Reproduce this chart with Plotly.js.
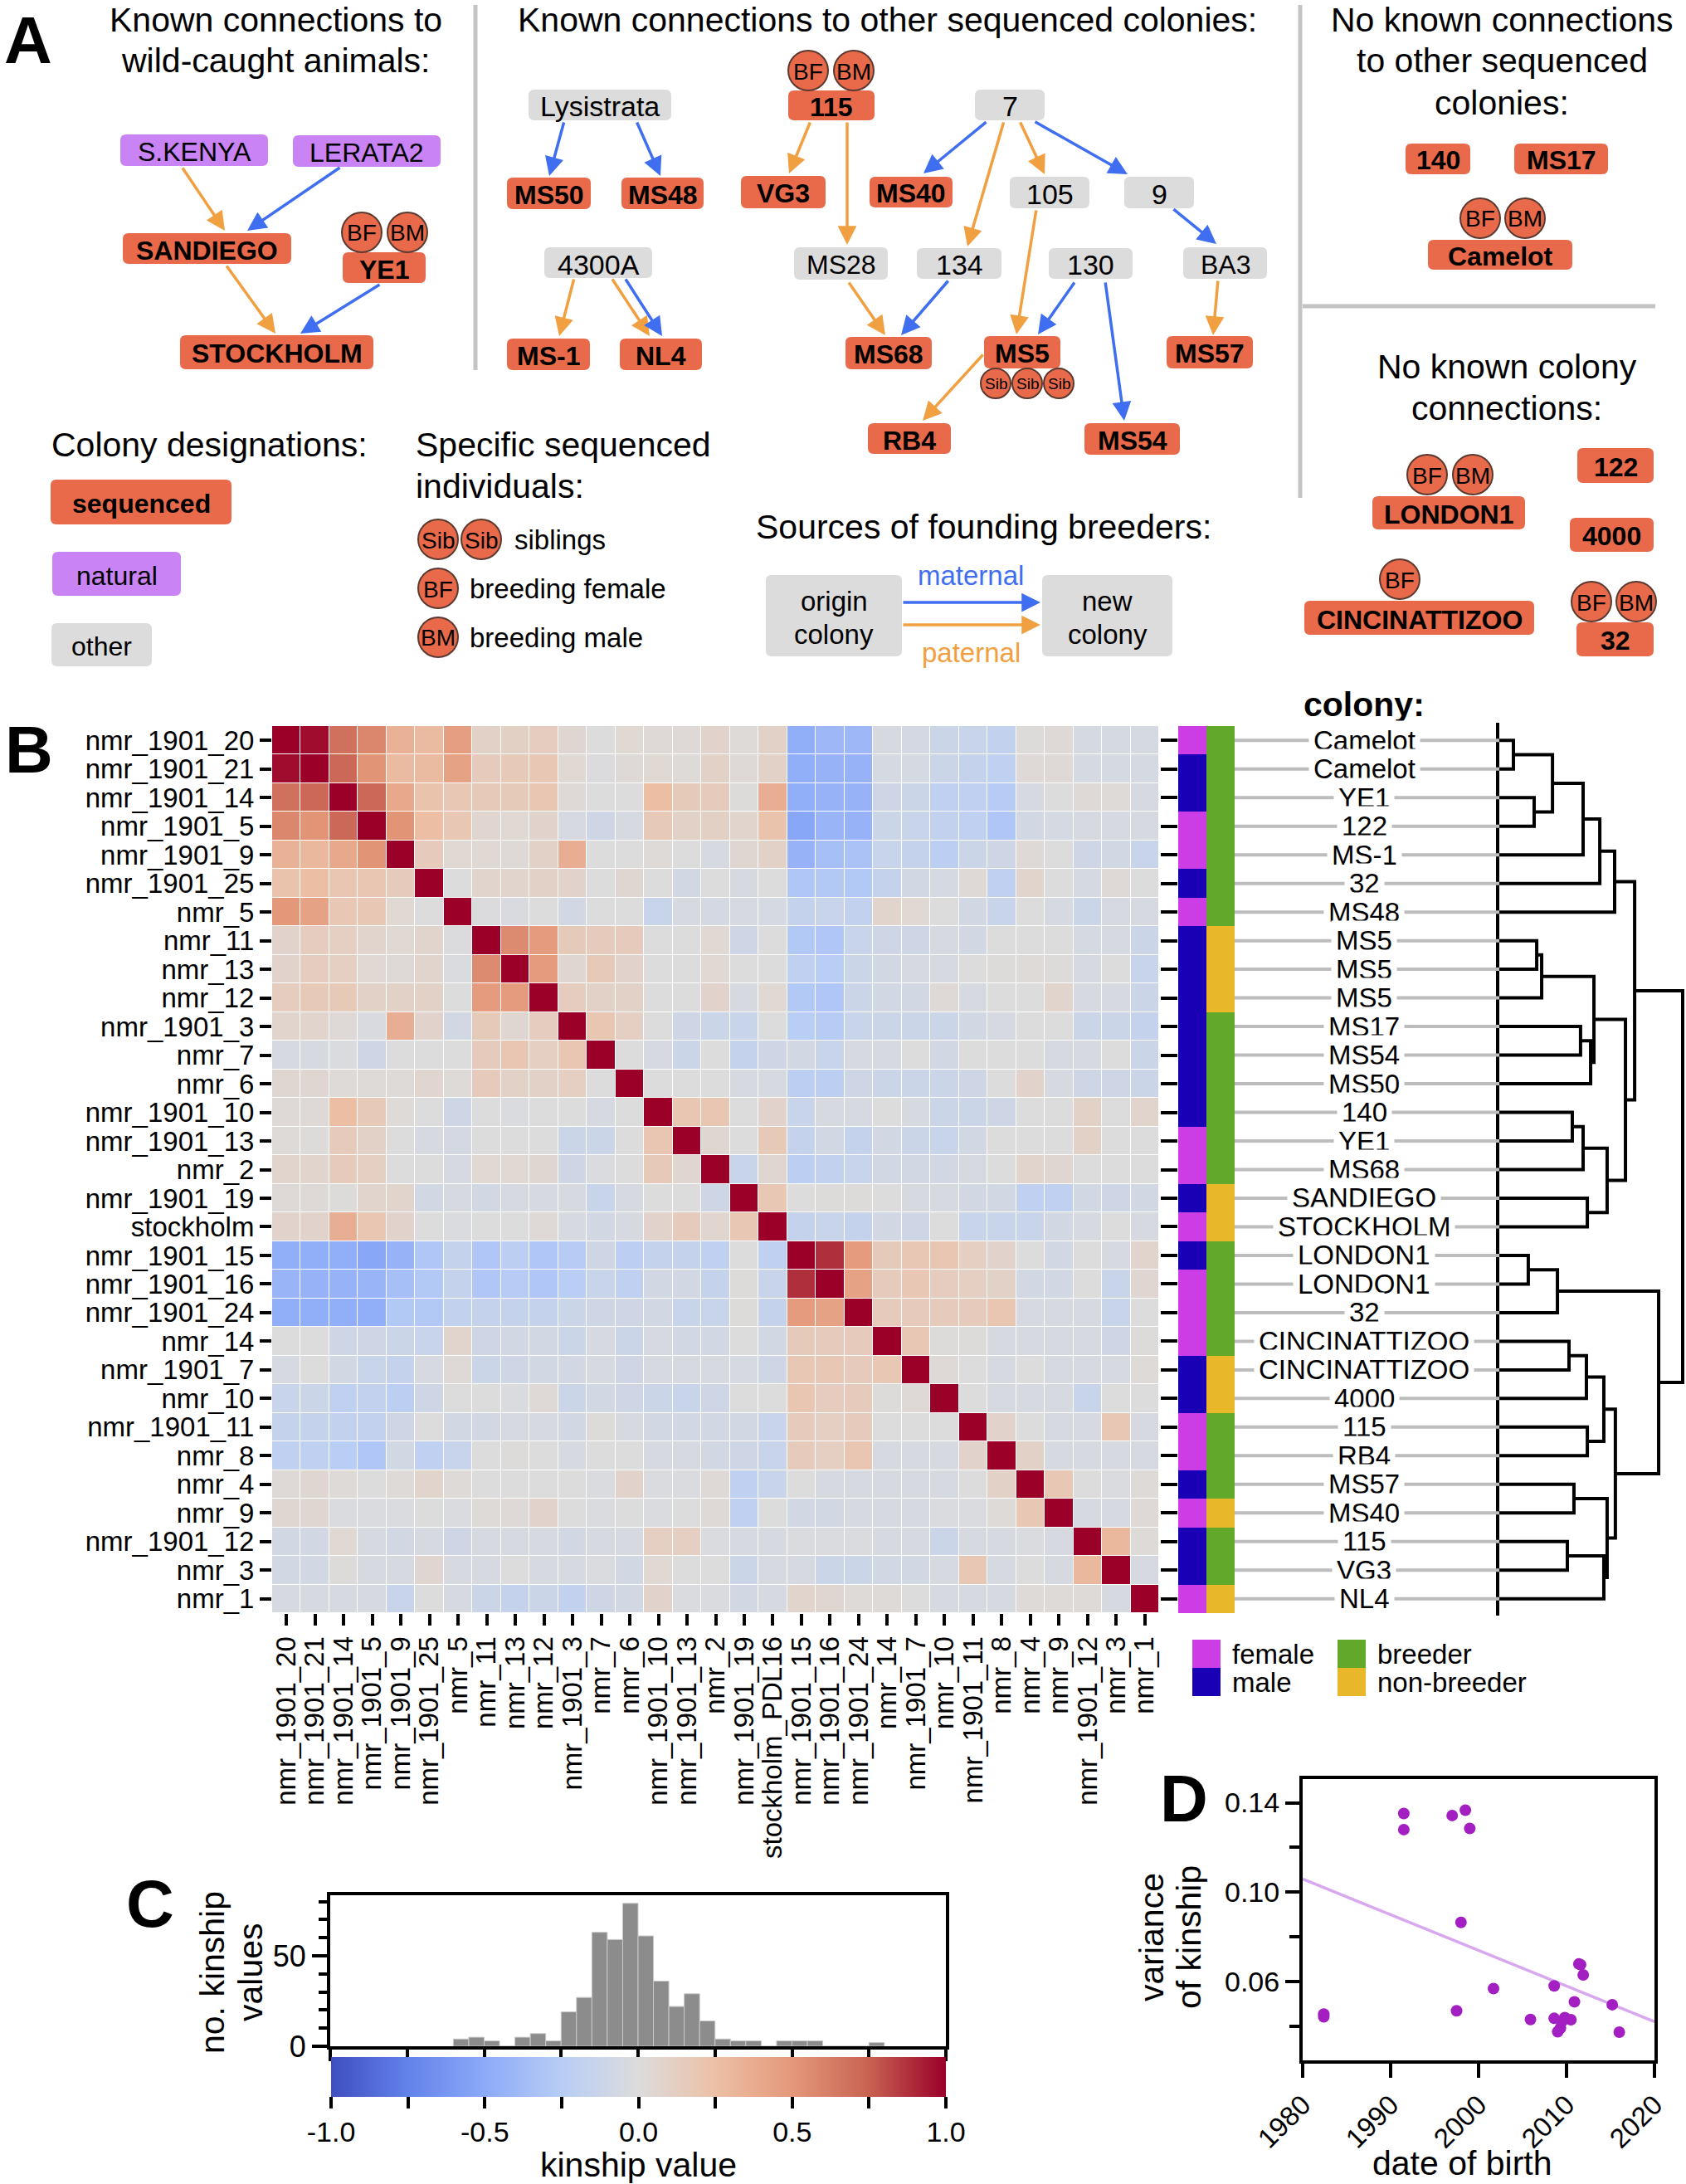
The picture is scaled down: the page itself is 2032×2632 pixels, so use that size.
<!DOCTYPE html>
<html><head><meta charset="utf-8">
<script src="https://cdn.plot.ly/plotly-3.0.1.min.js"></script>
<style>body{margin:0;background:#fff}#chart{width:2032px;height:2632px}</style>
</head><body><div id="chart"></div>
<script>
// ---------------- DATA ----------------
const rowLabels = ['nmr_1901_20','nmr_1901_21','nmr_1901_14','nmr_1901_5','nmr_1901_9','nmr_1901_25','nmr_5','nmr_11','nmr_13','nmr_12','nmr_1901_3','nmr_7','nmr_6','nmr_1901_10','nmr_1901_13','nmr_2','nmr_1901_19','stockholm','nmr_1901_15','nmr_1901_16','nmr_1901_24','nmr_14','nmr_1901_7','nmr_10','nmr_1901_11','nmr_8','nmr_4','nmr_9','nmr_1901_12','nmr_3','nmr_1'];
const colLabels = ['nmr_1901_20','nmr_1901_21','nmr_1901_14','nmr_1901_5','nmr_1901_9','nmr_1901_25','nmr_5','nmr_11','nmr_13','nmr_12','nmr_1901_3','nmr_7','nmr_6','nmr_1901_10','nmr_1901_13','nmr_2','nmr_1901_19','stockholm_PDL16','nmr_1901_15','nmr_1901_16','nmr_1901_24','nmr_14','nmr_1901_7','nmr_10','nmr_1901_11','nmr_8','nmr_4','nmr_9','nmr_1901_12','nmr_3','nmr_1'];
const colony = ['Camelot','Camelot','YE1','122','MS-1','32','MS48','MS5','MS5','MS5','MS17','MS54','MS50','140','YE1','MS68','SANDIEGO','STOCKHOLM','LONDON1','LONDON1','32','CINCINATTIZOO','CINCINATTIZOO','4000','115','RB4','MS57','MS40','115','VG3','NL4'];
const sex = ['F','M','M','F','F','M','F','M','M','M','M','M','M','M','F','F','M','F','M','F','F','F','M','M','F','F','M','F','M','M','F'];
const breeder = ['B','B','B','B','B','B','B','N','N','N','B','B','B','B','B','B','N','N','B','B','B','B','N','N','B','B','B','N','B','B','N'];
const kinship = [
[1,0.97,0.68,0.58,0.34,0.28,0.46,0.1,0.11,0.14,0.05,0,0.04,0.03,0.03,0.08,0.02,0.1,-0.47,-0.4,-0.4,-0.04,-0.06,-0.12,-0.14,-0.18,0.01,0.03,-0.05,-0.05,-0.05],
[0.97,1,0.72,0.52,0.28,0.28,0.44,0.15,0.17,0.18,0.04,-0.01,0.03,0.04,0.02,0.1,0.03,0.1,-0.47,-0.44,-0.44,-0.05,-0.05,-0.12,-0.16,-0.2,0.03,0.03,-0.05,-0.05,-0.05],
[0.68,0.72,1,0.72,0.4,0.22,0.18,0.17,0.16,0.2,0.03,0,0,0.26,0.16,0.15,0.01,0.36,-0.47,-0.44,-0.44,-0.1,-0.12,-0.2,-0.2,-0.26,-0.04,0,0.03,0.02,-0.04],
[0.58,0.52,0.72,1,0.52,0.26,0.18,0.06,0.04,0.08,-0.04,-0.1,-0.04,0.17,0.1,0.11,0.07,0.22,-0.52,-0.42,-0.44,-0.12,-0.14,-0.18,-0.2,-0.3,-0.07,-0.05,-0.04,-0.04,-0.04],
[0.34,0.3,0.4,0.52,1,0.15,0.04,0.04,0.03,0.1,0.36,0,0,0.02,0,-0.04,0.05,0.1,-0.44,-0.35,-0.33,-0.14,-0.16,-0.22,-0.12,-0.1,0.03,0,-0.1,-0.07,-0.14],
[0.22,0.26,0.2,0.2,0.15,1,0,0.07,0.07,0.1,0.08,0,0.05,0,-0.07,0,-0.04,0,-0.3,-0.28,-0.28,-0.16,-0.07,-0.05,0.03,-0.2,0.07,0,-0.05,0.03,0],
[0.5,0.44,0.18,0.18,0.04,0,1,-0.01,-0.03,0,-0.07,0,0,-0.14,-0.04,-0.06,-0.04,-0.05,-0.16,-0.14,-0.18,0.07,0.04,0,-0.07,-0.14,0,-0.04,-0.12,-0.04,-0.04],
[0.08,0.14,0.12,0.07,0.04,0.07,-0.01,1,0.56,0.48,0.16,0.15,0.15,0,0,0.04,-0.1,0,-0.28,-0.3,-0.14,-0.1,-0.1,-0.04,-0.07,0,0,0,-0.05,-0.04,-0.12],
[0.08,0.14,0.12,0.04,0.03,0.07,-0.02,0.56,1,0.48,0.05,0.17,0.08,0,0,0.04,0,0,-0.2,-0.24,-0.12,-0.07,-0.04,-0.04,0,0.01,0.02,0.01,-0.04,0,-0.14],
[0.14,0.17,0.17,0.1,0.1,0.1,0,0.48,0.48,1,0.14,0.1,0.1,0,0,0.08,-0.04,0.04,-0.28,-0.3,-0.12,-0.07,-0.07,0.03,-0.04,0,0,0.07,-0.04,-0.04,-0.12],
[0.07,0.07,0.03,-0.03,0.36,0.08,-0.07,0.16,0.05,0.14,1,0.2,0.12,0,-0.1,-0.12,-0.14,0,-0.24,-0.26,-0.14,-0.12,-0.12,-0.12,-0.07,-0.04,0,0,-0.12,-0.12,-0.16],
[-0.04,-0.04,-0.02,-0.1,0,0,0,0.15,0.2,0.12,0.2,1,0,-0.04,-0.12,0,-0.16,-0.1,-0.07,-0.14,-0.04,-0.04,0,-0.07,0,0,0,-0.04,-0.04,0,-0.12],
[0.05,0.05,0.02,0.02,0.02,0.06,0.02,0.15,0.1,0.1,0.12,0,1,0,0,0,-0.04,-0.04,-0.22,-0.22,-0.1,-0.12,-0.12,-0.12,-0.1,0,0.08,-0.04,-0.1,-0.1,-0.12],
[0.03,0.03,0.26,0.17,0.02,0,-0.1,0,-0.02,0,0,-0.04,0,1,0.2,0.2,0,0.08,-0.14,-0.04,-0.04,0,-0.04,-0.12,-0.12,-0.1,0,0,0.1,0,0.07],
[0.02,0.01,0.15,0.1,0,-0.04,-0.06,0,0,0,-0.12,-0.12,0,0.2,1,0.05,0,0.17,-0.16,-0.07,-0.16,-0.07,-0.12,-0.14,-0.07,0,0,0,0.1,0,0],
[0.07,0.07,0.15,0.12,0,0,-0.04,0.04,0.04,0.05,-0.1,-0.02,0,0.17,0.05,1,-0.14,0.05,-0.22,-0.18,-0.14,-0.07,-0.07,-0.07,-0.04,0,0.07,0.05,0,0,0],
[0.03,0.03,0.01,0.07,0.07,-0.07,-0.04,-0.07,-0.04,-0.04,-0.04,-0.14,-0.04,0,0,-0.1,1,0.18,0,0.01,0.01,0,-0.04,-0.04,-0.07,-0.07,-0.2,-0.2,-0.07,-0.1,-0.07],
[0.08,0.08,0.36,0.2,0.08,0,-0.02,0,0,0.03,-0.04,-0.07,-0.04,0.08,0.15,0.06,0.18,1,-0.16,-0.14,-0.16,-0.07,-0.1,0,-0.14,-0.14,-0.14,-0.07,-0.04,0,-0.04],
[-0.47,-0.47,-0.47,-0.52,-0.44,-0.3,-0.16,-0.3,-0.22,-0.3,-0.26,-0.1,-0.22,-0.16,-0.16,-0.2,0,-0.2,1,0.88,0.48,0.16,0.18,0.2,0.12,0.08,0,-0.07,0,-0.04,0.07],
[-0.42,-0.44,-0.44,-0.42,-0.35,-0.28,-0.16,-0.3,-0.26,-0.3,-0.24,-0.14,-0.2,-0.07,-0.07,-0.16,0.01,-0.14,0.88,1,0.44,0.15,0.18,0.14,0.12,0.1,-0.07,-0.07,0,-0.14,0.05],
[-0.47,-0.47,-0.47,-0.47,-0.28,-0.28,-0.18,-0.16,-0.16,-0.16,-0.12,-0.1,-0.1,-0.07,-0.14,-0.14,0.01,-0.16,0.48,0.44,1,0.15,0.15,0.15,0.15,0.2,-0.04,-0.04,-0.04,-0.14,0],
[0,0,-0.1,-0.1,-0.12,-0.14,0.07,-0.1,-0.07,-0.07,-0.12,-0.04,-0.12,-0.04,-0.07,-0.07,0,-0.07,0.16,0.15,0.15,1,0.18,0.01,0.01,-0.04,-0.04,-0.04,-0.04,-0.1,0.01],
[-0.04,0,-0.07,-0.14,-0.16,-0.04,0.03,-0.12,-0.1,-0.07,-0.07,-0.04,-0.1,-0.04,-0.04,-0.04,-0.04,-0.1,0.18,0.18,0.15,0.18,1,0.03,0,-0.04,0,-0.04,-0.04,-0.04,0.02],
[-0.14,-0.12,-0.2,-0.18,-0.22,-0.1,0,0,-0.02,0.03,-0.12,-0.07,-0.1,-0.12,-0.14,-0.1,0,0,0.2,0.14,0.15,0.01,0.03,1,0,-0.04,-0.04,-0.04,-0.14,0,0],
[-0.16,-0.16,-0.18,-0.18,-0.1,0,-0.07,-0.07,-0.04,-0.04,-0.07,0.01,-0.04,-0.07,-0.07,-0.07,-0.07,-0.14,0.15,0.12,0.15,0,0,0,1,0.08,0,-0.04,-0.04,0.18,-0.04],
[-0.2,-0.2,-0.24,-0.3,-0.07,-0.2,-0.14,0,0.01,0,-0.04,0,0,-0.04,-0.04,-0.07,-0.1,-0.14,0.15,0.12,0.2,-0.04,-0.04,-0.04,0.08,1,0.1,-0.04,-0.04,-0.04,-0.04],
[0.03,0.05,0.02,0,0.02,0.07,0.02,0,0,0,0,-0.02,0.08,-0.02,-0.02,0.03,-0.2,-0.14,0,-0.04,-0.04,-0.04,-0.04,-0.04,0,0.1,1,0.18,0,-0.02,0.02],
[0.05,0.05,-0.02,-0.02,-0.02,0,-0.02,0.02,0.03,0.08,0,-0.02,0,-0.02,0,0.03,-0.2,0,-0.07,-0.07,-0.04,-0.04,-0.04,-0.02,-0.02,0.02,0.18,1,-0.04,-0.04,0.03],
[-0.07,-0.07,0.04,-0.04,-0.07,-0.04,-0.1,-0.04,-0.04,-0.04,-0.07,-0.04,-0.04,0.12,0.12,-0.02,-0.04,-0.04,-0.02,-0.02,-0.02,-0.04,-0.04,-0.12,-0.04,-0.04,-0.02,-0.04,1,0.3,0.02],
[-0.07,-0.07,0.01,-0.04,-0.04,0.05,-0.04,-0.04,0,-0.04,-0.04,-0.02,-0.07,0.04,0,0,-0.12,-0.04,-0.04,-0.12,-0.12,-0.07,-0.07,-0.04,0.18,-0.04,0,-0.04,0.3,1,-0.04],
[-0.04,-0.04,-0.04,-0.04,-0.14,0,-0.04,-0.12,-0.16,-0.12,-0.18,-0.1,-0.07,0.08,-0.02,-0.02,-0.07,-0.04,0.07,0.05,0.02,0.02,0,-0.04,-0.04,-0.04,0.02,0.02,0.02,-0.04,1]
];
// dendrogram merges: [nodeA, nodeB, height]; leaves 0..30, merged clusters 31..
const dendroMerges = [
[0,1,0.077],[2,3,0.19],[31,32,0.29],[33,4,0.457],[34,5,0.548],[35,6,0.629],
[7,8,0.204],[37,9,0.231],[10,11,0.443],[39,12,0.498],[38,40,0.516],
[13,14,0.398],[42,15,0.457],[16,17,0.48],[43,44,0.588],[41,45,0.688],[36,46,0.738],
[18,19,0.158],[48,20,0.317],[21,22,0.38],[50,23,0.475],[24,25,0.48],[51,52,0.57],
[26,27,0.407],[28,29,0.371],[55,30,0.57],[54,56,0.588],[53,57,0.633],[49,58,0.869],[47,59,1.0]
];
// histogram of kinship values (bin width 0.05)
const histBinStart = [-0.6,-0.55,-0.5,-0.45,-0.4,-0.35,-0.3,-0.25,-0.2,-0.15,-0.1,-0.05,0,0.05,0.1,0.15,0.2,0.25,0.3,0.35,0.4,0.45,0.5,0.55,0.6,0.65,0.7,0.75];
const histCount = [4,5,3,0,5,7,3,19,27,63,59,79,61,36,22,29,14,4,3,3,0,3,3,3,0,0,0,2];
// panel D
const birthYear = [1982.4,1982.4,1991.5,1991.5,1997.0,1998.5,1999.0,1998.0,1997.5,2001.7,2005.9,2008.6,2008.6,2009.0,2009.3,2009.5,2009.8,2010.5,2010.9,2011.4,2011.6,2011.9,2015.2,2016.0];
const kinVariance = [0.0455,0.0443,0.1352,0.128,0.1343,0.1367,0.1285,0.0865,0.047,0.0569,0.0431,0.0581,0.0436,0.0376,0.0392,0.0422,0.0439,0.043,0.051,0.0679,0.0676,0.063,0.0497,0.0374];
const trendYear = [1980, 2020];
const trendVariance = [0.1059, 0.0421];

// ---------------- LAYOUT HELPERS ----------------
const W=2032, H=2632;
const X=p=>p/W, Y=p=>1-p/H;
const FONT='Liberation Sans, Arial, Helvetica, sans-serif';
const C_SEQ='#e86a4a', C_NAT='#c983f5', C_OTH='#dcdcdc';
const C_MAT='#3f6ff0', C_PAT='#f0a040';
const shapes=[], annotations=[];
function rrect(x0,y0,x1,y1,r){
  const f=(x,y)=>X(x)+','+Y(y);
  return 'M '+f(x0+r,y0)+' L '+f(x1-r,y0)+' Q '+f(x1,y0)+' '+f(x1,y0+r)+' L '+f(x1,y1-r)+' Q '+f(x1,y1)+' '+f(x1-r,y1)+' L '+f(x0+r,y1)+' Q '+f(x0,y1)+' '+f(x0,y1-r)+' L '+f(x0,y0+r)+' Q '+f(x0,y0)+' '+f(x0+r,y0)+' Z';
}
function txt(t,x,y,size,opt){
  opt=opt||{};
  annotations.push({xref:'paper',yref:'paper',x:X(x),y:Y(y),text:t,showarrow:false,
    xanchor:opt.xa||'center',yanchor:'middle',textangle:opt.angle||0,
    font:{family:FONT,size:size,color:opt.color||'#000'}});
}
function box(t,x0,y0,x1,y1,kind,size){
  const fill = kind==='seq'?C_SEQ:(kind==='nat'?C_NAT:C_OTH);
  shapes.push({type:'path',xref:'paper',yref:'paper',path:rrect(x0,y0,x1,y1,7),fillcolor:fill,line:{width:0}});
  const lines=t.split('\n');
  const n=lines.length, lh=40;
  lines.forEach((l,i)=>{
    const yy=(y0+y1)/2+(i-(n-1)/2)*lh+2;
    txt(kind==='seq'?'<b>'+l+'</b>':l,(x0+x1)/2,yy,size||32);
  });
}
function circ(t,cx,cy,r,size){
  shapes.push({type:'circle',xref:'paper',yref:'paper',x0:X(cx-r),x1:X(cx+r),y0:Y(cy+r),y1:Y(cy-r),fillcolor:C_SEQ,line:{color:'#5a3a30',width:2}});
  txt(t,cx,cy+1,size);
}
function arrow(tx,ty,hx,hy,col){
  annotations.push({xref:'paper',yref:'paper',x:X(hx),y:Y(hy),ax:tx-hx,ay:ty-hy,axref:'pixel',ayref:'pixel',
    text:'',showarrow:true,arrowhead:2,arrowsize:1.3,arrowwidth:3.5,arrowcolor:col,standoff:0,startstandoff:0});
}
function line(x0,y0,x1,y1,col,w){
  shapes.push({type:'line',xref:'paper',yref:'paper',x0:X(x0),y0:Y(y0),x1:X(x1),y1:Y(y1),line:{color:col,width:w}});
}

// ---------------- PANEL A ----------------
txt('<b>A</b>',34,49,80);
txt('Known connections to',332,24,41); txt('wild-caught animals:',332,73,41);
txt('Known connections to other sequenced colonies:',1069,24,41);
txt('No known connections',1810,24,41); txt('to other sequenced',1810,73,41); txt('colonies:',1810,124,41);
txt('No known colony',1816,442,41); txt('connections:',1816,492,41);
line(573,6,573,446,'#c4c4c4',5);
line(1567,6,1567,600,'#c4c4c4',5);
line(1570,369,1995,369,'#c4c4c4',5);

const nodes=[
 ['S.KENYA',145,162,323,200,'nat'],['LERATA2',353,163,531,201,'nat'],
 ['SANDIEGO',148,281,351,318,'seq'],['YE1',413,304,513,341,'seq'],['STOCKHOLM',217,404,450,445,'seq'],
 ['Lysistrata',637,108,809,145,'oth'],['MS50',611,214,712,252,'seq'],['MS48',749,214,848,252,'seq'],
 ['4300A',656,298,786,335,'oth'],['MS-1',611,408,711,446,'seq'],['NL4',747,408,846,446,'seq'],
 ['115',950,109,1054,145,'seq'],['VG3',893,212,995,251,'seq'],['7',1175,108,1259,145,'oth'],
 ['MS40',1048,213,1148,250,'seq'],['105',1217,213,1313,251,'oth'],['9',1355,213,1439,251,'oth'],
 ['MS28',957,298,1070,337,'oth'],['134',1105,299,1207,336,'oth'],['130',1264,299,1365,336,'oth'],['BA3',1426,298,1527,336,'oth'],
 ['MS68',1019,406,1123,445,'seq'],['MS5',1186,405,1278,444,'seq'],['MS57',1406,405,1510,444,'seq'],
 ['RB4',1046,510,1146,547,'seq'],['MS54',1307,510,1422,548,'seq'],
 ['140',1694,173,1772,210,'seq'],['MS17',1825,173,1938,210,'seq'],['Camelot',1721,289,1895,325,'seq'],
 ['LONDON1',1654,598,1838,638,'seq'],['122',1901,540,1993,582,'seq'],['4000',1892,624,1993,665,'seq'],
 ['CINCINATTIZOO',1572,724,1849,765,'seq'],['32',1900,750,1993,791,'seq'],
 ['sequenced',61,578,279,632,'seq'],['natural',63,665,218,718,'nat'],['other',62,751,183,803,'oth']
];
const bigGray=['7','105','134','130','9','4300A','Lysistrata'];
nodes.forEach(n=>box(n[0],n[1],n[2],n[3],n[4],n[5],bigGray.indexOf(n[0])>=0?34:32));
box('origin\ncolony',923,693,1087,791,'oth',33);
box('new\ncolony',1256,693,1413,791,'oth',33);

const circles=[
 ['BF',436,280,24],['BM',491,280,24],['BF',974,85,24],['BM',1029,85,24],
 ['Sib',1200,462,18],['Sib',1238,462,18],['Sib',1276,462,18],
 ['BF',1784,263,24],['BM',1838,263,24],['BF',1720,572,24],['BM',1775,572,24],
 ['BF',1687,698,24],['BF',1918,725,24],['BM',1972,725,24],
 ['Sib',528,650,24],['Sib',580,650,24],['BF',528,709,24],['BM',528,768,24]
];
circles.forEach(c=>circ(c[0],c[1],c[2],c[3],c[3]<20?19:28));

const arrows=[
 [219,201,271,278,'P'],[411,201,298,278,'M'],[272,319,332,402,'P'],[459,342,362,402,'M'],
 [680,146,662,212,'M'],[767,146,796,212,'M'],[692,335,674,405,'P'],[737,335,783,405,'P'],[753,335,798,405,'M'],
 [977,146,951,209,'P'],[1021,146,1021,295,'P'],[1190,146,1113,209,'M'],[1210,146,1166,297,'P'],
 [1229,146,1259,210,'P'],[1246,146,1359,210,'M'],[1249,252,1225,403,'P'],[1413,251,1466,294,'M'],
 [1022,339,1067,404,'P'],[1144,337,1086,404,'M'],[1296,339,1251,403,'M'],[1332,339,1355,507,'M'],
 [1468,337,1462,404,'P'],[1186,426,1112,507,'P'],
 [1087,726,1254,726,'M'],[1087,753,1254,753,'P']
];
arrows.forEach(a=>arrow(a[0],a[1],a[2],a[3],a[4]==='M'?C_MAT:C_PAT));

txt('Colony designations:',60,536,41,{xa:'left'});
txt('Specific sequenced',499,536,41,{xa:'left'}); txt('individuals:',499,586,41,{xa:'left'});
txt('siblings',618,650,33,{xa:'left'}); txt('breeding female',564,709,33,{xa:'left'}); txt('breeding male',564,768,33,{xa:'left'});
txt('Sources of founding breeders:',1185,635,41);
txt('maternal',1170,693,33,{color:C_MAT}); txt('paternal',1170,786,33,{color:C_PAT});

// ---------------- PANEL B ----------------
txt('<b>B</b>',35,903,80);
txt('<b>colony:</b>',1644,849,41);
const idx=rowLabels.map((_,i)=>i);
colony.forEach((c,i)=>{
  shapes.push({type:'line',xref:'paper',yref:'y',x0:X(1488),x1:X(1807),y0:i,y1:i,line:{color:'#bdbdbd',width:4}});
  annotations.push({xref:'paper',yref:'y',x:X(1644),y:i,text:c,showarrow:false,xanchor:'center',yanchor:'middle',
    bgcolor:'#ffffff',borderpad:5,font:{family:FONT,size:33,color:'#000'}});
});
const legendItems=[['female','#cc3de6',1437,1976],['male','#1a00b4',1437,2010],['breeder','#62a82a',1612,1976],['non-breeder','#e8b82a',1612,2010]];
legendItems.forEach(l=>{
  shapes.push({type:'rect',xref:'paper',yref:'paper',x0:X(l[2]),x1:X(l[2]+34),y0:Y(l[3]+34),y1:Y(l[3]),fillcolor:l[1],line:{width:0}});
  txt(l[0],l[2]+46,l[3]+17,33,{xa:'left'});
});

// dendrogram coordinates from merges
const nodeY=idx.slice(), nodeH=idx.map(()=>0);
const dx=[], dy=[];
dendroMerges.forEach(m=>{
  const [a,b,h]=m;
  dx.push(nodeH[a],h,h,nodeH[b],null);
  dy.push(nodeY[a],nodeY[a],nodeY[b],nodeY[b],null);
  nodeY.push((nodeY[a]+nodeY[b])/2); nodeH.push(h);
});

// ---------------- PANEL C / D labels ----------------
txt('<b>C</b>',181,2294,80);
txt('no. kinship',256,2377,41,{angle:-90}); txt('values',302,2377,41,{angle:-90});
txt('kinship value',769,2609,41);
txt('<b>D</b>',1427,2167,80);
txt('variance',1388,2335,41,{angle:-90}); txt('of kinship',1433,2335,41,{angle:-90});
txt('date of birth',1762,2607,41);

// ---------------- TRACES ----------------
const cscale=[[0,'#3f4ec0'],[0.125,'#6282ea'],[0.25,'#8caaf8'],[0.375,'#b8cdf5'],[0.5,'#dcdcdc'],[0.625,'#ecc0a6'],[0.75,'#e4987a'],[0.875,'#c86252'],[1,'#9a0028']];
const ticksCB=[-1,-0.75,-0.5,-0.25,0,0.25,0.5,0.75,1];
const traces=[
 {type:'heatmap',x:colLabels,y:rowLabels,z:kinship,zmin:-1,zmax:1,colorscale:cscale,xgap:1,ygap:1,xaxis:'x',yaxis:'y',
  colorbar:{orientation:'h',x:X(399),xanchor:'left',y:Y(2479),yanchor:'top',len:741,lenmode:'pixels',thickness:48,thicknessmode:'pixels',
   xpad:0,ypad:0,outlinewidth:0,tickvals:ticksCB,ticktext:['-1.0','','-0.5','','0.0','','0.5','','1.0'],ticks:'outside',ticklen:14,tickwidth:4,tickcolor:'#000',
   tickfont:{family:FONT,size:34,color:'#000'}}},
 {type:'heatmap',x:['sex','breeder'],y:rowLabels,z:rowLabels.map((_,i)=>[sex[i]==='F'?0:1,breeder[i]==='B'?2:3]),zmin:0,zmax:3,showscale:false,
  colorscale:[[0,'#cc3de6'],[0.25,'#cc3de6'],[0.25,'#1a00b4'],[0.5,'#1a00b4'],[0.5,'#62a82a'],[0.75,'#62a82a'],[0.75,'#e8b82a'],[1,'#e8b82a']],
  xaxis:'x2',yaxis:'y2'},
 {type:'scatter',mode:'lines',x:dx,y:dy,line:{color:'#000',width:4},xaxis:'x3',yaxis:'y3',hoverinfo:'skip'},
 {type:'bar',x:histBinStart.map(b=>b+0.025),y:histCount,width:0.05,marker:{color:'#8c8c8c',line:{color:'#c8c8c8',width:1}},xaxis:'x4',yaxis:'y4'},
 {type:'scatter',mode:'lines',x:trendYear,y:trendVariance,line:{color:'#d8a8ee',width:3.5},xaxis:'x5',yaxis:'y5'},
 {type:'scatter',mode:'markers',x:birthYear,y:kinVariance,marker:{color:'#a31fc2',size:14},xaxis:'x5',yaxis:'y5'}
];

const tf={family:FONT,size:33,color:'#000'};
const hmY=[Y(1944),Y(875)];
const layout={
 width:W,height:H,margin:{l:0,r:0,t:0,b:0},paper_bgcolor:'#fff',plot_bgcolor:'#fff',showlegend:false,
 font:{family:FONT,color:'#000'},
 xaxis:{domain:[X(328),X(1397)],anchor:'y',range:[-0.5,30.5],autorange:false,tickmode:'array',tickvals:colLabels,ticktext:colLabels,
  tickangle:-90,ticks:'outside',ticklen:14,tickwidth:4,tickcolor:'#000',tickfont:tf,showgrid:false,zeroline:false,showline:false,type:'category'},
 yaxis:{domain:hmY,anchor:'x',range:[30.5,-0.5],autorange:false,tickmode:'array',tickvals:rowLabels,ticktext:rowLabels,
  ticks:'outside',ticklen:14,tickwidth:4,tickcolor:'#000',tickfont:tf,showgrid:false,zeroline:false,showline:false,type:'category'},
 xaxis2:{domain:[X(1420),X(1488)],anchor:'y2',range:[-0.5,1.5],visible:false,type:'category'},
 yaxis2:{domain:hmY,anchor:'x2',range:[30.5,-0.5],autorange:false,tickmode:'array',tickvals:rowLabels,ticks:'outside',ticklen:20,tickwidth:4,tickcolor:'#000',
  showticklabels:false,showgrid:false,zeroline:false,showline:false,type:'category'},
 xaxis3:{domain:[X(1807),1],anchor:'y3',range:[0,225/221],visible:false},
 yaxis3:{domain:[Y(1947),Y(871)],anchor:'x3',range:[30.5+3/34.5,-0.5-4/34.5],autorange:false,showline:true,linewidth:4,linecolor:'#000',
  ticks:'',showticklabels:false,showgrid:false,zeroline:false},
 xaxis4:{domain:[X(398),X(1140)],anchor:'y4',range:[-1,1],autorange:false,tickvals:ticksCB,showticklabels:false,ticks:'outside',ticklen:14,tickwidth:4,
  tickcolor:'#000',showline:true,mirror:true,linewidth:4,linecolor:'#000',showgrid:false,zeroline:false},
 yaxis4:{domain:[Y(2466),Y(2284)],anchor:'x4',range:[0,83.5],autorange:false,tickmode:'array',tickvals:[0,50],ticktext:['0','50'],ticks:'outside',
  ticklen:18,tickwidth:4,tickcolor:'#000',tickfont:{family:FONT,size:36,color:'#000'},
  minor:{tickmode:'array',tickvals:[10,20,30,40,60,70,80],ticks:'outside',ticklen:10,tickwidth:4,tickcolor:'#000',showgrid:false},
  showline:true,mirror:true,linewidth:4,linecolor:'#000',showgrid:false,zeroline:false},
 xaxis5:{domain:[X(1570),X(1994)],anchor:'y5',range:[1980,2020],autorange:false,tickvals:[1980,1990,2000,2010,2020],tickangle:-45,ticks:'outside',
  ticklen:17,tickwidth:4,tickcolor:'#000',tickfont:{family:FONT,size:33,color:'#000'},showline:true,mirror:true,linewidth:4,linecolor:'#000',
  showgrid:false,zeroline:false},
 yaxis5:{domain:[Y(2483),Y(2144)],anchor:'x5',range:[0.0248,0.1506],autorange:false,tickmode:'array',tickvals:[0.06,0.10,0.14],
  ticktext:['0.06','0.10','0.14'],ticks:'outside',ticklen:17,tickwidth:4,tickcolor:'#000',tickfont:{family:FONT,size:34,color:'#000'},
  minor:{tickmode:'array',tickvals:[0.04,0.08,0.12],ticks:'outside',ticklen:12,tickwidth:4,tickcolor:'#000',showgrid:false},
  showline:true,mirror:true,linewidth:4,linecolor:'#000',showgrid:false,zeroline:false},
 shapes:shapes,annotations:annotations,bargap:0
};
Plotly.newPlot('chart',traces,layout,{staticPlot:true});
</script></body></html>
